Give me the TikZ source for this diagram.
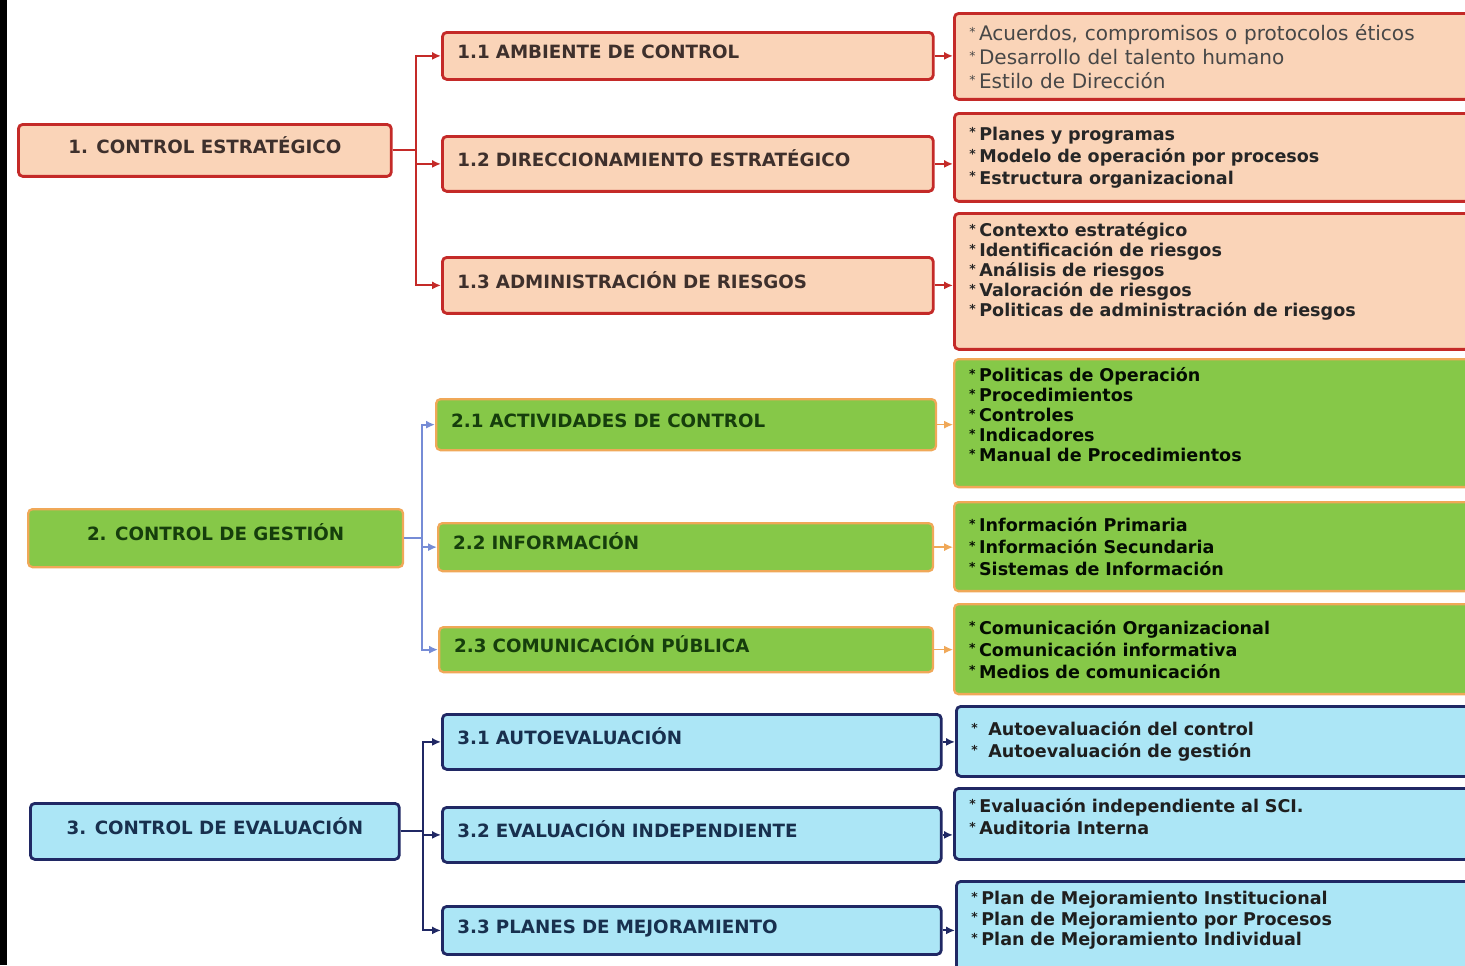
\documentclass[tikz,border=0pt]{standalone}
\usepackage{fontspec}
\setmainfont{DejaVu Sans}
\usetikzlibrary{arrows.meta, positioning}
\definecolor{peach}{RGB}{250,212,184}
\definecolor{redln}{RGB}{196,42,40}
\definecolor{peachtxt}{RGB}{62,48,44}
\definecolor{leaf}{RGB}{134,200,72}
\definecolor{orangeln}{RGB}{240,168,88}
\definecolor{leaftxt}{RGB}{22,62,12}
\definecolor{lavln}{RGB}{118,140,214}
\definecolor{sky}{RGB}{172,230,246}
\definecolor{navyln}{RGB}{32,40,100}
\definecolor{skytxt}{RGB}{24,48,78}
\newcommand{\itm}{\raisebox{2pt}{\scriptsize *}\hspace{2pt}}

\tikzset{
  box/.style={draw, line width=1.6pt, rounded corners=2.5pt, anchor=north west, inner xsep=0.3cm},
  topbox/.style={box, minimum width=#1, align=center,
    font=\fontsize{10.4}{12}\selectfont\bfseries, text height=8pt, text depth=5pt},
  midbox/.style={box, text width=#1, align=left,
    font=\fontsize{10.4}{12}\selectfont\bfseries, text height=8pt, text depth=5pt},
  leafbox/.style={box, text width=9.94cm, align=left, inner ysep=2pt,
    font=\fontsize{10}{#1}\selectfont\bfseries},
  g1/.style={fill=peach, draw=redln, text=peachtxt},
  g2/.style={fill=leaf, draw=orangeln, line width=1.3pt, text=leaftxt},
  g3/.style={fill=sky, draw=navyln, text=skytxt},
  link/.style={line width=1.1pt, -{Latex[length=5pt,width=4.5pt]}},
}

\begin{document}
\begin{tikzpicture}[x=0.02cm, y=-0.02cm]
  \useasboundingbox (0,0) rectangle (1465,965);
  \clip (0,0) rectangle (1465,965);
  \fill[white] (0,0) rectangle (1465,965);
  \fill[black] (0,0) rectangle (7,965);

  % ---------- 1. control estrategico ----------
  \node[topbox=7.46cm, g1, minimum height=1.04cm] (ce) at (17,123) {1. CONTROL ESTRATÉGICO};
  \node[midbox=9.22cm, g1, minimum height=0.94cm] (n11) at (441,31)  {1.1 AMBIENTE DE CONTROL};
  \node[midbox=9.22cm, g1, minimum height=1.10cm] (n12) at (441,135) {1.2 DIRECCIONAMIENTO ESTRATÉGICO};
  \node[midbox=9.22cm, g1, minimum height=1.12cm] (n13) at (441,256) {1.3 ADMINISTRACIÓN DE RIESGOS};

  \node[leafbox=13.6pt, g1, minimum height=1.72cm, font=\fontsize{11.4}{13.6}\selectfont\mdseries,
        text=black!72] (d11) at (953,12)
    {\itm Acuerdos, compromisos o protocolos éticos\\ \itm Desarrollo del talento humano\\ \itm Estilo de Dirección};
  \node[leafbox=12.5pt, g1, minimum height=1.76cm, text=black!85] (d12) at (953,112)
    {\itm Planes y programas\\ \itm Modelo de operación por procesos\\ \itm Estructura organizacional};
  \node[leafbox=11.4pt, g1, minimum height=2.72cm, text=black!85, text depth=59pt] (d13) at (953,212)
    {\itm Contexto estratégico\\ \itm Identificación de riesgos\\ \itm Análisis de riesgos\\
     \itm Valoración de riesgos\\ \itm Politicas de administración de riesgos};

  \foreach \k in {n11,n12,n13}{\draw[link, redln] (ce.east) -- ++(23,0) |- (\k.west);}
  \draw[link, redln] (n11.east) -- (n11.east -| d11.west);
  \draw[link, redln] (n12.east) -- (n12.east -| d12.west);
  \draw[link, redln] (n13.east) -- (n13.east -| d13.west);

  % ---------- 2. control de gestion ----------
  \node[topbox=7.5cm, g2, minimum height=1.16cm] (cg) at (27,508) {2. CONTROL DE GESTIÓN};
  \node[midbox=9.40cm, g2, minimum height=1.02cm] (n21) at (435,398) {2.1 ACTIVIDADES DE CONTROL};
  \node[midbox=9.30cm, g2, minimum height=0.96cm] (n22) at (437,522) {2.2 INFORMACIÓN};
  \node[midbox=9.28cm, g2, minimum height=0.90cm] (n23) at (438,626) {2.3 COMUNICACIÓN PÚBLICA};

  \node[leafbox=11.4pt, g2, minimum height=2.56cm, text=black!80!leaftxt, text depth=55pt] (d21) at (953,358)
    {\itm Politicas de Operación\\ \itm Procedimientos\\ \itm Controles\\ \itm Indicadores\\
     \itm Manual de Procedimientos};
  \node[leafbox=12.5pt, g2, minimum height=1.78cm, text=black!80!leaftxt] (d22) at (953,501)
    {\itm Información Primaria\\ \itm Información Secundaria\\ \itm Sistemas de Información};
  \node[leafbox=12.5pt, g2, minimum height=1.80cm, text=black!80!leaftxt] (d23) at (953,603)
    {\itm Comunicación Organizacional\\ \itm Comunicación informativa\\ \itm Medios de comunicación};

  \foreach \k in {n21,n22,n23}{\draw[link, lavln] (cg.east) -- ++(18,0) |- (\k.west);}
  \draw[link, orangeln, line width=0.8pt] (n21.east) -- (n21.east -| d21.west);
  \draw[link, orangeln, line width=0.8pt] (n22.east) -- (n22.east -| d22.west);
  \draw[link, orangeln, line width=0.8pt] (n23.east) -- (n23.east -| d23.west);

  % ---------- 3. control de evaluacion ----------
  \node[topbox=7.38cm, g3, minimum height=1.12cm] (cv) at (29,802) {3. CONTROL DE EVALUACIÓN};
  \node[midbox=9.38cm, g3, minimum height=1.10cm] (n31) at (441,713) {3.1 AUTOEVALUACIÓN};
  \node[midbox=9.38cm, g3, minimum height=1.10cm] (n32) at (441,806) {3.2 EVALUACIÓN INDEPENDIENTE};
  \node[midbox=9.38cm, g3, minimum height=0.96cm] (n33) at (441,905) {3.3 PLANES DE MEJORAMIENTO};

  \node[leafbox=12.5pt, g3, minimum height=1.40cm, text=black!88] (d31) at (955,705)
    {\itm\hspace{4pt}Autoevaluación del control\\ \itm\hspace{4pt}Autoevaluación de gestión};
  \node[leafbox=12.8pt, g3, minimum height=1.42cm, text=black!88, text depth=21pt] (d32) at (953,787)
    {\itm Evaluación independiente al SCI.\\ \itm Auditoria Interna};
  \node[leafbox=11.6pt, g3, minimum height=1.90cm, text=black!88, text depth=35pt] (d33) at (955,880)
    {\itm Plan de Mejoramiento Institucional\\ \itm Plan de Mejoramiento por Procesos\\
     \itm Plan de Mejoramiento Individual};

  \foreach \k in {n31,n32,n33}{\draw[link, navyln] (cv.east) -- ++(22,0) |- (\k.west);}
  \draw[link, navyln] (n31.east) -- (n31.east -| d31.west);
  \draw[link, navyln] (n32.east) -- (n32.east -| d32.west);
  \draw[link, navyln] (n33.east) -- (n33.east -| d33.west);

\end{tikzpicture}
\end{document}
